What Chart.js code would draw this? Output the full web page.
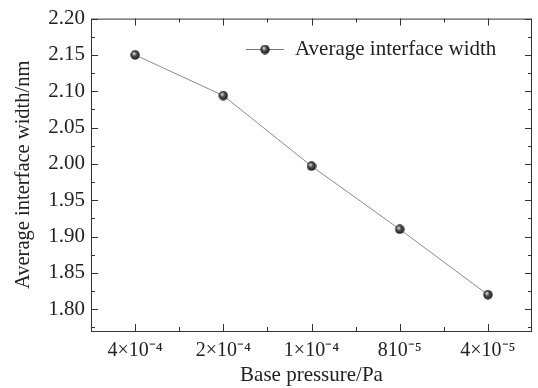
<!DOCTYPE html>
<html>
<head>
<meta charset="utf-8">
<script src="https://cdn.jsdelivr.net/npm/chart.js@4.4.0/dist/chart.umd.min.js"></script>
<style>
    body { margin: 0; background: #fff; }
    canvas { display: block; }
</style>
</head>
<body>
<canvas id="chart" width="538" height="388"></canvas>
<script>
// Data
const pressureLabels = ["4×10⁻⁴", "2×10⁻⁴", "1×10⁻⁴", "810⁻⁵", "4×10⁻⁵"];
const interfaceWidth = [2.15, 2.094, 1.997, 1.91, 1.82];
const yTicks = [1.80, 1.85, 1.90, 1.95, 2.00, 2.05, 2.10, 2.15, 2.20];
const yMinorTicks = [1.775, 1.825, 1.875, 1.925, 1.975, 2.025, 2.075, 2.125, 2.175];
const yMin = 1.77;
const yMax = 2.20;

const FONT = '"Liberation Serif", "Times New Roman", serif';
const TEXT = "#222";
const AXIS = "#333";

// Small shaded ball used as the marker
function makeBall(size) {
    const c = document.createElement("canvas");
    c.width = size;
    c.height = size;
    const g = c.getContext("2d");
    const r = size / 2;
    const grad = g.createRadialGradient(r * 0.75, r * 0.7, 0.5, r, r, r);
    grad.addColorStop(0, "#e0e0e0");
    grad.addColorStop(0.35, "#555");
    grad.addColorStop(1, "#111");
    g.fillStyle = grad;
    g.beginPath();
    g.arc(r, r, r - 0.3, 0, Math.PI * 2);
    g.fill();
    return c;
}
const ball = makeBall(10);

// Frame on all four sides with inward tick marks, plus the legend
const framePlugin = {
    id: "frame",
    afterDraw(chart) {
        const { ctx, chartArea: a, scales } = chart;
        const x = scales.x, y = scales.y;
        ctx.save();
        ctx.strokeStyle = AXIS;
        ctx.lineWidth = 1;
        ctx.strokeRect(a.left + 0.5, a.top + 0.5, a.right - a.left - 1, a.bottom - a.top);
        ctx.beginPath();
        yTicks.forEach((v) => {
            const py = Math.round(y.getPixelForValue(v)) + 0.5;
            ctx.moveTo(a.left, py); ctx.lineTo(a.left + 7, py);
            ctx.moveTo(a.right, py); ctx.lineTo(a.right - 7, py);
        });
        yMinorTicks.forEach((v) => {
            const py = Math.round(y.getPixelForValue(v)) + 0.5;
            ctx.moveTo(a.left, py); ctx.lineTo(a.left + 4, py);
            ctx.moveTo(a.right, py); ctx.lineTo(a.right - 4, py);
        });
        pressureLabels.forEach((l, i) => {
            const px = Math.round(x.getPixelForValue(i)) + 0.5;
            ctx.moveTo(px, a.bottom); ctx.lineTo(px, a.bottom - 7);
            ctx.moveTo(px, a.top); ctx.lineTo(px, a.top + 7);
            if (i > 0) {
                const mx = Math.round(x.getPixelForValue(i - 0.5)) + 0.5;
                ctx.moveTo(mx, a.bottom); ctx.lineTo(mx, a.bottom - 4);
                ctx.moveTo(mx, a.top); ctx.lineTo(mx, a.top + 4);
            }
        });
        ctx.stroke();

        // legend
        const lx = 246, ly = 49;
        ctx.strokeStyle = "#777";
        ctx.beginPath();
        ctx.moveTo(lx, ly + 0.5); ctx.lineTo(lx + 38, ly + 0.5);
        ctx.stroke();
        ctx.drawImage(ball, lx + 19 - 5, ly - 4.5);
        ctx.fillStyle = TEXT;
        ctx.font = "21px " + FONT;
        ctx.textBaseline = "middle";
        ctx.fillText("Average interface width", 295, ly);
        ctx.restore();
    },
};

const ctx = document.getElementById("chart").getContext("2d");
new Chart(ctx, {
    type: "line",
    data: {
        labels: pressureLabels,
        datasets: [
            {
                label: "Average interface width",
                data: interfaceWidth,
                borderColor: "#8a8a8a",
                borderWidth: 1,
                pointStyle: ball,
                pointRadius: 5,
                fill: false,
                tension: 0,
            },
        ],
    },
    options: {
        responsive: false,
        animation: false,
        events: [],
        layout: { padding: { top: 18, right: 2, bottom: 0, left: 0 } },
        plugins: {
            legend: { display: false },
            tooltip: { enabled: false },
        },
        scales: {
            x: {
                type: "category",
                offset: true,
                grid: { display: false, drawTicks: false },
                border: { display: false },
                ticks: {
                    color: TEXT,
                    font: { family: FONT, size: 20 },
                    padding: 8,
                    maxRotation: 0,
                },
                title: {
                    display: true,
                    text: "Base pressure/Pa",
                    color: TEXT,
                    font: { family: FONT, size: 21 },
                    padding: { top: 0, bottom: 0 },
                },
                afterFit(scale) {
                    scale.height = 57;
                },
            },
            y: {
                min: yMin,
                max: yMax,
                grid: { display: false, drawTicks: false },
                border: { display: false },
                afterBuildTicks(scale) {
                    scale.ticks = yTicks.map((v) => ({ value: v }));
                },
                ticks: {
                    color: TEXT,
                    font: { family: FONT, size: 21 },
                    padding: 6,
                    callback: (v) => Number(v).toFixed(2),
                },
                title: {
                    display: true,
                    text: "Average interface width/nm",
                    color: TEXT,
                    font: { family: FONT, size: 20.5 },
                    padding: { top: 11, bottom: 0 },
                },
                afterFit(scale) {
                    scale.width = 91;
                },
            },
        },
    },
    plugins: [framePlugin],
});
</script>
</body>
</html>
